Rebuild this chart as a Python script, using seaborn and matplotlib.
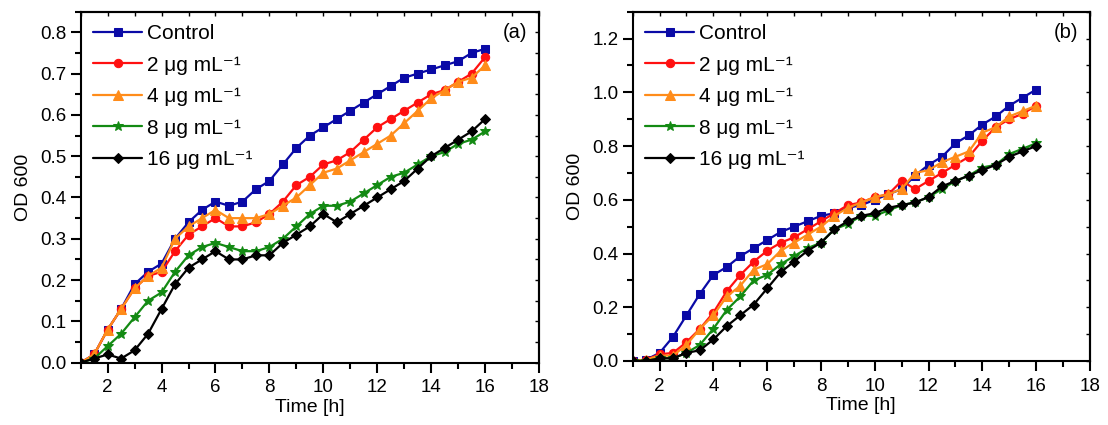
import numpy as np
import pandas as pd
import matplotlib
matplotlib.use("Agg")
import matplotlib.pyplot as plt
import seaborn as sns
from matplotlib.ticker import MultipleLocator, FormatStrFormatter, FuncFormatter

time_h = [1, 1.5, 2, 2.5, 3, 3.5, 4, 4.5, 5, 5.5, 6, 6.5, 7, 7.5, 8, 8.5,
          9, 9.5, 10, 10.5, 11, 11.5, 12, 12.5, 13, 13.5, 14, 14.5, 15, 15.5, 16]

labels = ["Control", "2 μg mL⁻¹", "4 μg mL⁻¹", "8 μg mL⁻¹", "16 μg mL⁻¹"]

# Panel (a)
a_control = [0.0, 0.02, 0.08, 0.13, 0.19, 0.22, 0.24, 0.30, 0.34, 0.37, 0.39, 0.38, 0.39, 0.42, 0.44, 0.48,
             0.52, 0.55, 0.57, 0.59, 0.61, 0.63, 0.65, 0.67, 0.69, 0.70, 0.71, 0.72, 0.73, 0.75, 0.76]
a_2 = [0.0, 0.02, 0.08, 0.13, 0.18, 0.21, 0.22, 0.27, 0.31, 0.33, 0.35, 0.33, 0.33, 0.34, 0.36, 0.39,
       0.43, 0.45, 0.48, 0.49, 0.51, 0.54, 0.57, 0.59, 0.61, 0.63, 0.65, 0.66, 0.68, 0.70, 0.74]
a_4 = [0.0, 0.02, 0.08, 0.13, 0.18, 0.21, 0.23, 0.30, 0.33, 0.35, 0.37, 0.35, 0.35, 0.35, 0.36, 0.38,
       0.40, 0.43, 0.46, 0.47, 0.49, 0.51, 0.53, 0.55, 0.58, 0.61, 0.64, 0.66, 0.68, 0.69, 0.72]
a_8 = [0.0, 0.01, 0.04, 0.07, 0.11, 0.15, 0.17, 0.22, 0.26, 0.28, 0.29, 0.28, 0.27, 0.27, 0.28, 0.30,
       0.33, 0.36, 0.38, 0.38, 0.39, 0.41, 0.43, 0.45, 0.46, 0.48, 0.50, 0.51, 0.53, 0.54, 0.56]
a_16 = [0.0, 0.01, 0.02, 0.01, 0.03, 0.07, 0.13, 0.19, 0.23, 0.25, 0.27, 0.25, 0.25, 0.26, 0.26, 0.29,
        0.31, 0.33, 0.36, 0.34, 0.36, 0.38, 0.40, 0.42, 0.44, 0.47, 0.50, 0.52, 0.54, 0.56, 0.59]

# Panel (b)
b_control = [0.0, 0.005, 0.03, 0.09, 0.17, 0.25, 0.32, 0.35, 0.39, 0.42, 0.45, 0.48, 0.50, 0.52, 0.54, 0.55,
             0.57, 0.58, 0.60, 0.62, 0.64, 0.69, 0.73, 0.76, 0.81, 0.84, 0.88, 0.91, 0.95, 0.98, 1.01]
b_2 = [0.0, 0.005, 0.025, 0.03, 0.07, 0.12, 0.18, 0.26, 0.32, 0.37, 0.41, 0.44, 0.46, 0.49, 0.52, 0.55,
       0.58, 0.59, 0.61, 0.62, 0.67, 0.64, 0.67, 0.70, 0.73, 0.76, 0.82, 0.87, 0.90, 0.92, 0.95]
b_4 = [0.0, 0.005, 0.02, 0.02, 0.06, 0.12, 0.17, 0.24, 0.28, 0.34, 0.36, 0.41, 0.44, 0.47, 0.50, 0.54,
       0.57, 0.59, 0.61, 0.62, 0.64, 0.70, 0.71, 0.74, 0.76, 0.78, 0.85, 0.87, 0.91, 0.93, 0.95]
b_8 = [0.0, 0.0, 0.01, 0.01, 0.03, 0.06, 0.12, 0.19, 0.24, 0.30, 0.32, 0.36, 0.39, 0.42, 0.44, 0.49,
       0.51, 0.54, 0.54, 0.56, 0.58, 0.59, 0.61, 0.64, 0.67, 0.69, 0.72, 0.73, 0.77, 0.79, 0.81]
b_16 = [0.0, 0.0, 0.01, 0.01, 0.03, 0.04, 0.08, 0.13, 0.17, 0.21, 0.27, 0.33, 0.37, 0.41, 0.44, 0.49,
        0.52, 0.54, 0.55, 0.57, 0.58, 0.59, 0.61, 0.65, 0.67, 0.69, 0.71, 0.73, 0.76, 0.78, 0.80]

panel_a = [a_control, a_2, a_4, a_8, a_16]
panel_b = [b_control, b_2, b_4, b_8, b_16]

colors = ["#0A0AA6", "#FF1010", "#FF8C1A", "#138A13", "#000000"]
markers = ["s", "o", "^", "*", "D"]
msizes = [5.5, 6, 7, 7, 5.5]

sns.set_theme(style="ticks")
plt.rcParams["font.family"] = ["Liberation Sans", "DejaVu Sans"]
for k in ["axes.edgecolor", "xtick.color", "ytick.color", "text.color", "axes.labelcolor"]:
    plt.rcParams[k] = "black"
plt.rcParams["axes.linewidth"] = 1.5

fig = plt.figure(figsize=(11.08, 4.25), dpi=100)
ax1 = fig.add_axes([0.0728, 0.1466, 0.4137, 0.826])
ax2 = fig.add_axes([0.571, 0.1506, 0.4127, 0.822])


def draw(ax, series, ylim, ymajor, yminor, tag):
    for vals, lab, c, m, ms in zip(series, labels, colors, markers, msizes):
        df = pd.DataFrame({"t": time_h, "od": vals})
        sns.lineplot(data=df, x="t", y="od", ax=ax, color=c, marker=m, markersize=ms,
                     markeredgecolor=c, linewidth=1.6, label=lab)
    ax.set_xlim(1, 18)
    ax.set_ylim(*ylim)
    ax.xaxis.set_major_locator(MultipleLocator(2))
    ax.xaxis.set_minor_locator(MultipleLocator(1))
    ax.yaxis.set_major_locator(MultipleLocator(ymajor))
    ax.yaxis.set_minor_locator(MultipleLocator(yminor))
    ax.tick_params(which="major", direction="out", length=7, width=1.5, labelsize=13.5, pad=3)
    ax.tick_params(axis="x", which="major", pad=5)
    ax.tick_params(which="minor", direction="out", length=4, width=1.5)
    ax.tick_params(axis="x", which="both", top=False)
    ax.tick_params(axis="y", which="both", right=False)
    ax.xaxis.set_major_formatter(FuncFormatter(lambda v, p: "%d" % v))
    ax.yaxis.set_major_formatter(FormatStrFormatter("%.1f"))
    # inward ticks on top and right
    sx = ax.secondary_xaxis("top")
    sx.xaxis.set_major_locator(MultipleLocator(2))
    sx.xaxis.set_minor_locator(MultipleLocator(1))
    sx.tick_params(which="both", direction="in", length=3, width=1, labeltop=False)
    sy = ax.secondary_yaxis("right")
    sy.yaxis.set_major_locator(MultipleLocator(ymajor))
    sy.yaxis.set_minor_locator(MultipleLocator(yminor))
    sy.tick_params(which="both", direction="in", length=3, width=1, labelright=False)
    for s in ax.spines.values():
        s.set_linewidth(1.5)
    ax.set_xlabel("Time [h]", fontsize=14, labelpad=2)
    ax.set_ylabel("OD 600", fontsize=14, labelpad=6)
    ax.text(0.975, 0.94, tag, transform=ax.transAxes, ha="right", va="center", fontsize=14.5)
    ax.legend(loc="upper left", frameon=False, fontsize=15, handlelength=2.35,
              handletextpad=0.25, labelspacing=0.6, borderpad=0.3, borderaxespad=0.3)


draw(ax1, panel_a, (0, 0.85), 0.1, 0.05, "(a)")
draw(ax2, panel_b, (0, 1.3), 0.2, 0.1, "(b)")

fig.savefig("out.png", dpi=100)
